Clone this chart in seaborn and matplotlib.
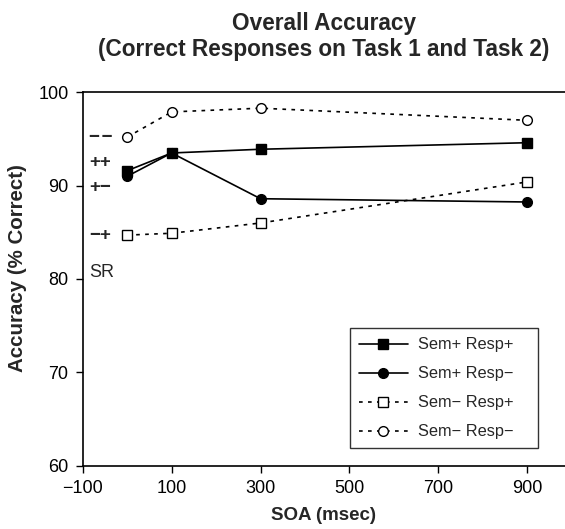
import matplotlib
matplotlib.use("Agg")
import matplotlib.pyplot as plt
import seaborn as sns
import pandas as pd

# ---- data ----
soa = [0, 100, 300, 900]
sem_pos_resp_pos = [91.6, 93.5, 93.9, 94.6]
sem_pos_resp_neg = [91.0, 93.5, 88.6, 88.25]
sem_neg_resp_pos = [84.7, 84.9, 86.0, 90.4]
sem_neg_resp_neg = [95.2, 97.9, 98.3, 97.0]
series_names = ["Sem+ Resp+", "Sem+ Resp\u2212", "Sem\u2212 Resp+", "Sem\u2212 Resp\u2212"]

xticks = [-100, 100, 300, 500, 700, 900]
yticks = [60, 70, 80, 90, 100]

side_labels = ["\u2212\u200a\u2212", "++", "+\u2212", "\u2212+"]
side_label_y = [95.2, 92.45, 89.75, 84.65]

title = "Overall Accuracy\n(Correct Responses on Task 1 and Task 2)"
xlabel = "SOA (msec)"
ylabel = "Accuracy (% Correct)"

df = pd.DataFrame({
    "SOA": soa * 4,
    "acc": sem_pos_resp_pos + sem_pos_resp_neg + sem_neg_resp_pos + sem_neg_resp_neg,
    "cond": sum([[n] * len(soa) for n in series_names], []),
})

sns.set_style("ticks")
plt.rcParams["font.family"] = ["Liberation Sans", "DejaVu Sans"]

fig = plt.figure(figsize=(5.65, 5.29), dpi=100)
ax = fig.add_axes([0.1464, 0.1197, 1 - 0.1464, 0.8255 - 0.1197])

dotted = (0, (2.2, 3.2))
styles = {
    series_names[0]: dict(marker="s", markerfacecolor="black", linestyle="-"),
    series_names[1]: dict(marker="o", markerfacecolor="black", linestyle="-"),
    series_names[2]: dict(marker="s", markerfacecolor="white", linestyle=dotted),
    series_names[3]: dict(marker="o", markerfacecolor="white", linestyle=dotted),
}
for name in [series_names[3], series_names[2], series_names[1], series_names[0]]:
    st = styles[name]
    sns.lineplot(data=df[df["cond"] == name], x="SOA", y="acc", ax=ax,
                 color="black", linewidth=1.2, markersize=7,
                 markeredgecolor="black", markeredgewidth=1.0,
                 label=name, **st)

ax.set_xlim(-100, 985)
ax.set_ylim(60, 100)
ax.set_xticks(xticks)
ax.set_yticks(yticks)
ax.tick_params(axis="both", direction="out", length=4.8, width=1, labelsize=13,
               colors="black")
ax.tick_params(axis="x", pad=5.5)
ax.tick_params(axis="y", pad=5.5)
for s in ["left", "bottom", "top"]:
    ax.spines[s].set_linewidth(1.2)
    ax.spines[s].set_color("black")
ax.spines["right"].set_visible(False)

ax.set_xlabel(xlabel, fontsize=13.5, fontweight="bold")
ax.set_ylabel(ylabel, fontsize=14.8, fontweight="bold")
ax.xaxis.set_label_coords(0.5, -0.110)
ax.yaxis.set_label_coords(-0.1155, 0.529)
ax.set_title(title, fontsize=16.3, fontweight="bold", pad=26, linespacing=1.15)

for lab, yv in zip(side_labels, side_label_y):
    ax.text(-86, yv, lab, fontsize=13.5, fontweight="bold", ha="left", va="center")
ax.text(-86, 80.7, "SR", fontsize=13, ha="left", va="center")

handles, labels = ax.get_legend_handles_labels()
order = [labels.index(n) for n in series_names]
leg = ax.legend([handles[i] for i in order], [labels[i] for i in order],
                loc="lower left", bbox_to_anchor=(0.554, 0.0466, 0.3907, 0.333),
                mode="expand", borderaxespad=0, fontsize=11.8, handlelength=3.0,
                labelspacing=0.85, frameon=True, fancybox=False,
                borderpad=0.55, handletextpad=0.6)
leg.get_frame().set_edgecolor("black")
leg.get_frame().set_linewidth(1.0)

fig.savefig("out.png", dpi=100)
